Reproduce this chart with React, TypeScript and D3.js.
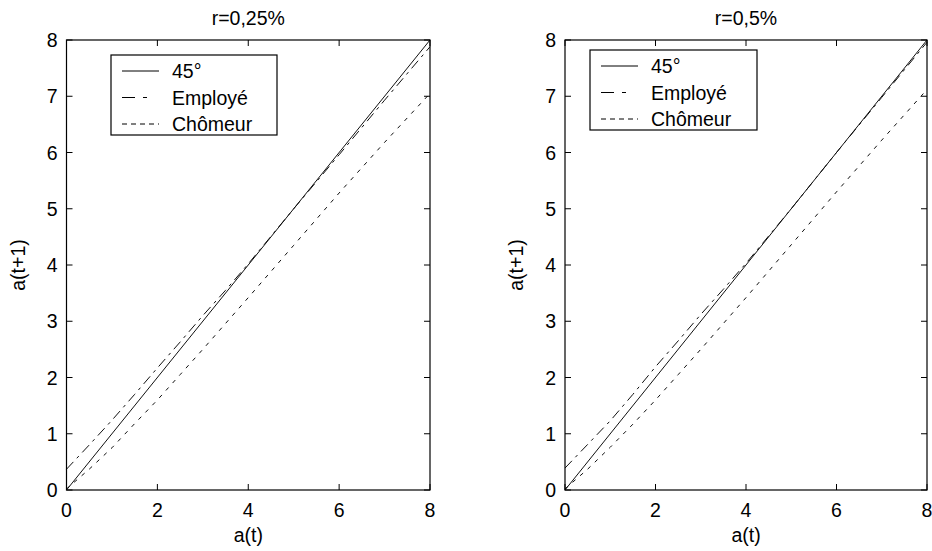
import React from "react";
import * as d3 from "d3";

const xGrid = [0, 0.5, 1, 1.5, 2, 2.5, 3, 3.5, 4, 5, 6, 7, 8];
const line45 = [0, 8];
const employeLeft = [0.37, 0.8, 1.24, 1.7, 2.17, 2.63, 3.1, 3.55, 4.02, 5.0, 5.96, 6.93, 7.88];
const chomeurLeft = [0.02, 0.37, 0.75, 1.18, 1.6, 2.05, 2.5, 2.96, 3.42, 4.35, 5.28, 6.18, 7.05];
const employeRight = [0.39, 0.81, 1.23, 1.7, 2.19, 2.65, 3.12, 3.57, 4.03, 5.0, 6.0, 6.98, 7.96];
const chomeurRight = [0.02, 0.37, 0.76, 1.17, 1.6, 2.05, 2.5, 2.96, 3.42, 4.36, 5.3, 6.22, 7.12];
const xTicks = [0, 2, 4, 6, 8];
const yTicks = [0, 1, 2, 3, 4, 5, 6, 7, 8];
const titles = ["r=0,25%", "r=0,5%"];
const legendLabels = ["45°", "Employé", "Chômeur"];
const xLabel = "a(t)";
const yLabel = "a(t+1)";

const FONT = "'Liberation Sans', Arial, sans-serif";
const FS = 19.5;
const plotDashes = [null, "10,5,3,5", "4,6"];
const legendDashes = [null, "13,8,4,12", "5,4"];

type PanelProps = {
  left: number; right: number; top: number; bottom: number;
  title: string; employe: number[]; chomeur: number[];
  legend: { x: number; y: number; w: number; h: number };
};

function Panel(p: PanelProps) {
  const x = d3.scaleLinear().domain([0, 8]).range([p.left, p.right]);
  const y = d3.scaleLinear().domain([0, 8]).range([p.bottom, p.top]);
  const line = d3.line<[number, number]>().x((d) => x(d[0])).y((d) => y(d[1]));
  const series: [number, number][][] = [
    line45.map((v) => [v, v] as [number, number]),
    xGrid.map((v, i) => [v, p.employe[i]] as [number, number]),
    xGrid.map((v, i) => [v, p.chomeur[i]] as [number, number]),
  ];
  const tl = 6;
  const cx = (p.left + p.right) / 2;
  return (
    <g>
      <text x={cx} y={25} textAnchor="middle" fontFamily={FONT} fontSize={FS}>{p.title}</text>
      {series.map((s, i) => (
        <path key={i} d={line(s) || ""} fill="none" stroke="#111" strokeWidth={1}
          strokeDasharray={plotDashes[i] || undefined} />
      ))}
      <rect x={p.left} y={p.top} width={p.right - p.left} height={p.bottom - p.top}
        fill="none" stroke="#000" strokeWidth={1.2} />
      {xTicks.map((t) => (
        <g key={"x" + t}>
          <line x1={x(t)} x2={x(t)} y1={p.bottom} y2={p.bottom - tl} stroke="#000" />
          <line x1={x(t)} x2={x(t)} y1={p.top} y2={p.top + tl} stroke="#000" />
          <text x={x(t)} y={517} textAnchor="middle" fontFamily={FONT} fontSize={FS}>{t}</text>
        </g>
      ))}
      {yTicks.map((t) => (
        <g key={"y" + t}>
          <line x1={p.left} x2={p.left + tl} y1={y(t)} y2={y(t)} stroke="#000" />
          <line x1={p.right} x2={p.right - tl} y1={y(t)} y2={y(t)} stroke="#000" />
          <text x={p.left - 9} y={y(t) + 7} textAnchor="end" fontFamily={FONT} fontSize={FS}>{t}</text>
        </g>
      ))}
      <text x={cx} y={542} textAnchor="middle" fontFamily={FONT} fontSize={FS}>{xLabel}</text>
      <text transform={`translate(${p.left - 42},${(p.top + p.bottom) / 2}) rotate(-90)`}
        textAnchor="middle" fontFamily={FONT} fontSize={FS}>{yLabel}</text>
      <rect x={p.legend.x} y={p.legend.y} width={p.legend.w} height={p.legend.h}
        fill="#fff" stroke="#000" strokeWidth={1.2} />
      {legendLabels.map((lab, i) => {
        const ry = p.legend.y + 16 + i * 26.5;
        return (
          <g key={lab}>
            <line x1={p.legend.x + 11} x2={p.legend.x + 48} y1={ry} y2={ry} stroke="#000"
              strokeDasharray={legendDashes[i] || undefined} />
            <text x={p.legend.x + 61} y={ry + 7} fontFamily={FONT} fontSize={FS}>{lab}</text>
          </g>
        );
      })}
    </g>
  );
}

export default function App() {
  return (
    <svg width={932} height={551} style={{ position: "absolute", left: 0, top: 0, background: "#fff" }}>
      <rect width={932} height={551} fill="#fff" />
      <Panel left={66.5} right={430} top={40} bottom={490} title={titles[0]}
        employe={employeLeft} chomeur={chomeurLeft}
        legend={{ x: 111, y: 55, w: 166, h: 80 }} />
      <Panel left={565} right={927} top={40} bottom={490} title={titles[1]}
        employe={employeRight} chomeur={chomeurRight}
        legend={{ x: 590, y: 50, w: 167, h: 80 }} />
    </svg>
  );
}
